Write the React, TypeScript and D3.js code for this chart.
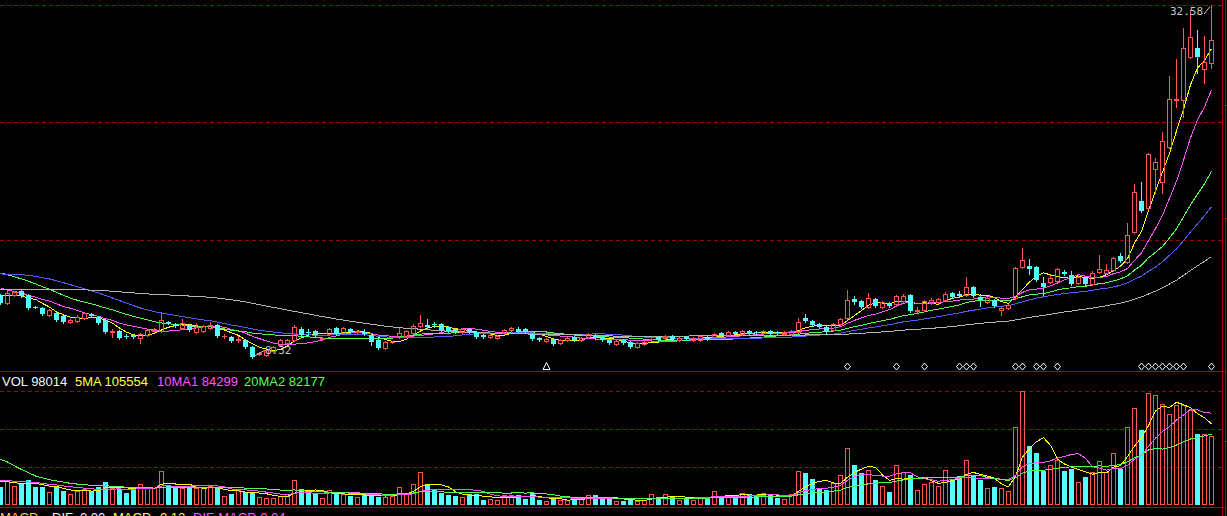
import React from "react";
import * as d3 from "d3";

// ---------- data ----------
const opens = [
  12.62, 12.07, 12.62, 12.90, 12.62, 11.80, 11.73, 11.25, 11.39, 11.18,
  10.77, 10.84, 11.04, 11.32, 11.11, 10.91, 10.08, 10.15, 9.83, 9.87,
  9.67, 9.87, 10.15, 10.15, 10.77, 10.63, 10.36, 10.56, 10.08, 10.15,
  10.36, 10.56, 9.79, 9.74, 9.53, 9.53, 9.05, 8.57, 8.50, 8.78,
  9.19, 9.33, 9.53, 10.29, 10.10, 10.15, 9.60, 9.94, 10.36, 10.01,
  10.29, 10.08, 10.08, 9.87, 9.53, 8.98, 9.38, 9.74, 9.81, 10.01,
  10.49, 10.56, 10.65, 10.63, 10.42, 10.29, 10.08, 10.29, 10.08, 9.87,
  9.74, 9.67, 10.01, 10.22, 10.29, 10.29, 9.94, 9.67, 9.46, 9.60,
  9.33, 9.53, 9.74, 9.53, 9.74, 9.87, 9.74, 9.53, 9.26, 9.53,
  9.40, 9.05, 9.26, 9.58, 9.74, 9.67, 9.81, 9.53, 9.74, 9.55,
  9.53, 9.69, 9.74, 10.01, 9.87, 10.08, 9.94, 10.15, 10.08, 10.01,
  10.15, 10.08, 9.94, 9.94, 10.08, 11.04, 10.84, 10.63, 10.42, 10.22,
  10.63, 11.04, 12.35, 12.21, 11.80, 12.35, 11.80, 12.07, 12.01, 12.21,
  12.62, 11.53, 11.59, 12.07, 12.14, 12.28, 12.76, 12.69, 12.62, 13.17,
  12.49, 12.14, 12.28, 11.59, 11.73, 12.42, 14.55, 14.62, 14.55, 13.45,
  13.52, 13.59, 14.20, 14.00, 13.45, 13.79, 13.38, 14.20, 14.14, 14.34,
  15.30, 14.89, 16.95, 19.08, 18.60, 21.28, 20.39, 22.79, 26.05, 26.02,
  28.97, 29.59, 28.15, 28.56,
];
const highs = [
  12.69, 12.90, 12.90, 12.97, 12.69, 11.87, 11.80, 11.66, 11.46, 11.25,
  10.97, 11.25, 11.46, 11.39, 11.18, 10.97, 10.29, 10.22, 9.94, 9.94,
  10.01, 10.29, 10.36, 11.39, 10.84, 10.70, 10.97, 10.63, 10.70, 10.56,
  10.77, 10.63, 9.94, 9.81, 9.81, 9.60, 9.12, 8.71, 8.91, 9.12,
  9.60, 9.60, 10.56, 10.42, 10.29, 10.22, 9.74, 10.36, 10.42, 10.42,
  10.36, 10.22, 10.29, 9.94, 9.60, 9.46, 9.46, 10.36, 10.22, 10.63,
  11.25, 10.97, 10.77, 10.70, 10.49, 10.36, 10.36, 10.36, 10.15, 9.94,
  9.94, 9.87, 10.29, 10.42, 10.42, 10.36, 10.01, 9.74, 9.67, 9.67,
  9.60, 9.74, 9.81, 9.74, 10.01, 9.94, 9.81, 9.60, 9.53, 9.60,
  9.46, 9.40, 9.46, 9.67, 9.81, 9.87, 9.87, 9.74, 9.81, 9.74,
  9.87, 9.81, 10.01, 10.08, 10.15, 10.15, 10.22, 10.22, 10.15, 10.22,
  10.22, 10.15, 10.15, 10.22, 11.04, 11.32, 10.91, 10.70, 10.49, 10.70,
  11.04, 12.97, 12.56, 12.28, 12.76, 12.42, 12.21, 12.14, 12.62, 12.69,
  12.69, 11.80, 12.28, 12.42, 12.42, 12.83, 12.83, 12.90, 13.86, 13.24,
  12.69, 12.49, 12.35, 11.80, 12.01, 14.55, 15.85, 15.10, 14.62, 13.86,
  14.00, 14.48, 14.34, 14.27, 14.00, 13.86, 14.27, 15.37, 14.76, 15.24,
  15.51, 17.57, 20.25, 20.39, 22.38, 22.04, 23.82, 27.67, 28.84, 30.97,
  32.20, 30.83, 30.42, 32.58,
];
const lows = [
  12.01, 12.01, 12.56, 12.49, 11.66, 11.73, 11.25, 11.18, 10.84, 10.70,
  10.70, 10.77, 10.97, 11.11, 10.63, 10.01, 9.74, 9.60, 9.67, 9.67,
  9.33, 9.81, 10.08, 10.08, 10.63, 10.42, 10.29, 10.15, 10.01, 10.08,
  10.29, 9.74, 9.67, 9.40, 9.40, 8.98, 8.32, 8.50, 8.43, 8.71,
  9.12, 9.26, 9.46, 9.81, 9.87, 9.81, 9.53, 9.87, 9.87, 9.94,
  10.01, 10.01, 9.87, 9.19, 8.91, 8.91, 9.33, 9.67, 9.74, 9.94,
  10.42, 10.36, 10.42, 10.15, 10.08, 10.01, 10.01, 10.01, 9.67, 9.67,
  9.67, 9.60, 9.94, 10.15, 10.01, 10.01, 9.53, 9.46, 9.40, 9.19,
  9.26, 9.46, 9.46, 9.46, 9.67, 9.60, 9.46, 9.26, 9.19, 9.26,
  8.98, 8.98, 9.19, 9.53, 9.46, 9.60, 9.53, 9.46, 9.53, 9.46,
  9.46, 9.53, 9.67, 9.74, 9.81, 9.87, 9.87, 9.87, 9.94, 9.94,
  9.87, 9.94, 9.87, 9.87, 10.01, 10.77, 10.49, 10.36, 10.01, 10.15,
  10.56, 10.97, 12.01, 11.73, 11.73, 11.80, 11.73, 11.80, 11.94, 12.14,
  11.46, 11.46, 11.53, 12.01, 12.07, 12.21, 12.42, 12.49, 12.56, 12.49,
  11.87, 12.07, 11.80, 11.25, 11.66, 12.35, 14.48, 14.07, 13.59, 12.62,
  13.45, 13.52, 14.00, 13.31, 13.38, 13.31, 13.31, 14.14, 14.07, 14.27,
  14.89, 14.82, 16.88, 18.33, 18.53, 19.63, 19.63, 22.72, 25.54, 24.85,
  28.90, 27.87, 27.19, 28.22,
];
const closes = [
  12.07, 12.76, 12.83, 12.56, 11.73, 11.78, 11.32, 11.59, 10.91, 10.77,
  10.91, 11.11, 11.39, 11.18, 10.70, 10.08, 10.15, 9.67, 9.79, 9.74,
  9.94, 10.22, 10.29, 10.91, 10.70, 10.49, 10.70, 10.22, 10.42, 10.49,
  10.56, 9.81, 9.83, 9.46, 9.60, 9.05, 8.40, 8.64, 8.85, 9.05,
  9.53, 9.53, 10.42, 9.87, 10.06, 9.87, 9.67, 10.29, 9.94, 10.36,
  10.08, 10.15, 9.94, 9.40, 8.98, 9.40, 9.42, 10.01, 10.15, 10.49,
  10.70, 10.42, 10.61, 10.22, 10.15, 10.10, 10.29, 10.08, 9.74, 9.74,
  9.87, 9.81, 10.22, 10.36, 10.08, 10.08, 9.60, 9.53, 9.60, 9.26,
  9.53, 9.67, 9.53, 9.67, 9.94, 9.67, 9.53, 9.33, 9.46, 9.33,
  9.05, 9.33, 9.40, 9.62, 9.53, 9.81, 9.60, 9.67, 9.60, 9.67,
  9.81, 9.65, 9.94, 9.81, 10.08, 9.94, 10.15, 9.94, 10.01, 10.15,
  9.94, 10.01, 10.08, 10.15, 10.77, 10.84, 10.56, 10.42, 10.08, 10.63,
  10.97, 12.28, 12.14, 11.80, 12.42, 11.87, 12.14, 11.87, 12.56, 12.56,
  11.53, 11.59, 12.21, 12.28, 12.35, 12.69, 12.49, 12.56, 13.17, 12.56,
  12.28, 12.42, 11.87, 11.73, 11.94, 14.48, 15.03, 14.41, 13.65, 13.17,
  13.79, 14.41, 14.07, 13.38, 13.86, 13.38, 14.14, 14.41, 14.34, 15.17,
  14.96, 16.75, 19.70, 18.39, 22.31, 21.76, 23.20, 26.09, 26.12, 29.59,
  30.35, 28.97, 28.63, 30.14,
];
const volumes = [
  26000, 35500, 27000, 29400, 35500, 26000, 26000, 18000, 27400, 19900,
  15600, 20300, 22700, 19900, 25100, 32700, 23700, 22300, 17500, 23100,
  29400, 23700, 23700, 48300, 28400, 25100, 23700, 23700, 23700, 23700,
  27000, 23700, 12800, 15600, 21300, 18900, 17500, 11800, 10400, 9500,
  12800, 15600, 35500, 22700, 17500, 15600, 10400, 21300, 15600, 15600,
  12800, 11800, 15200, 13200, 11800, 11800, 12800, 25100, 16600, 29800,
  46400, 28400, 21300, 17500, 14200, 12800, 10900, 15600, 15600, 7100,
  8500, 7100, 13800, 13800, 14200, 8500, 16600, 7100, 5300, 8100,
  7100, 7100, 9500, 8100, 13800, 14200, 8100, 9500, 5700, 5700,
  8100, 5700, 6700, 15600, 11400, 15600, 11400, 7100, 10400, 7100,
  11400, 9500, 19900, 12800, 12800, 12800, 16600, 15600, 12800, 16600,
  14200, 10400, 8100, 15600, 48300, 45400, 36900, 22300, 21300, 30800,
  42200, 80500, 56800, 45000, 49700, 35500, 27000, 18500, 56400, 46400,
  42600, 21300, 29400, 33100, 27000, 49700, 35500, 41200, 63900, 41200,
  35500, 23700, 25600, 23700, 19900, 110300, 161900, 83800, 73800, 48700,
  56400, 63900, 48300, 51100, 32700, 39800, 46400, 62500, 46400, 73400,
  51500, 110300, 137300, 106500, 158600, 156200, 143400, 129200, 142000, 142000,
  134900, 100800, 100400, 98014,
];
// closes / volumes before the first visible bar (only feed the moving averages)
const priorCloses = [
  11.5, 11.6, 11.4, 11.7, 11.8, 11.6, 11.5, 11.7, 11.9, 11.6, 11.5, 11.7, 11.6, 11.8,
  11.9, 12.0, 12.2, 11.9, 12.1, 12.3, 12.0, 11.9, 12.1, 12.1, 12.0, 12.0, 12.1, 12.0, 12.2, 12.4,
  13.0, 13.2, 13.1, 13.5, 13.8, 14.0, 14.3, 14.6, 14.8, 15.0,
  15.3, 15.6, 15.4, 15.0, 15.2, 15.5, 15.1, 14.9, 15.0, 14.7,
  14.2, 13.9, 13.5, 13.4, 13.0,
  12.9, 12.7, 12.8, 12.65,
];
const priorVolumes = [
  110000, 140000, 130000, 125000, 122400,
  80000, 70000, 60000, 55000, 50600,
  42000, 38000, 40000, 35000, 34500,
  36000, 33000, 37000, 33500,
];
const priceMAPeriods = [5, 10, 20, 30, 60];
const priceMAColors = ["#ffff00", "#ff55ff", "#55ff55", "#5a5aff", "#b4b4b4"];
const volMAPeriods = [5, 10, 20];
const volMAColors = ["#ffff00", "#ff55ff", "#55ff55"];
const diamondIdx = [121, 128, 132, 137, 138, 139, 145, 146, 148, 149, 151, 163, 164, 165, 166, 167, 168, 169, 173];
const triangleIdx = [78];
const volLegend = [
  { label: "VOL 98014", color: "#f4f4f4", x: 2 },
  { label: "5MA 105554", color: "#ffff55", x: 75 },
  { label: "10MA1 84299", color: "#ff55ff", x: 157 },
  { label: "20MA2 82177", color: "#55ff55", x: 244 },
];
const macdLegend = [
  { label: "MACD", color: "#ffd24a", x: 0 },
  { label: "DIF", color: "#f4f4f4", x: 52 },
  { label: "0.00", color: "#f4f4f4", x: 80 },
  { label: "MACD", color: "#ffff55", x: 113 },
  { label: "0.12", color: "#ffff55", x: 160 },
  { label: "DIF-MACD 0.04", color: "#ff55ff", x: 193 },
];

const RED = "#ff5454";
const CYAN = "#54fcfc";
const GRID = "#a80000";
const BORDER = "#b40000";

function movingAverage(values: number[], prior: number[], n: number): number[] {
  const all = [...prior, ...values];
  const off = prior.length;
  return values.map((_, i) => {
    const end = off + i;
    const start = Math.max(0, end - n + 1);
    return d3.mean(all.slice(start, end + 1)) as number;
  });
}

export default function App() {
  const W = 1227;
  const H = 516;
  const n = closes.length;
  const priceMax = d3.max(highs) as number;
  const priceMin = d3.min(lows) as number;
  const maxIdx = highs.indexOf(priceMax);
  const minIdx = lows.indexOf(priceMin);

  const x = d3.scaleLinear().domain([0, n - 1]).range([0, 7 * (n - 1)]);
  const y = d3.scaleLinear().domain([priceMin, priceMax]).range([357.7, 4.5]);
  const vy = d3.scaleLinear().domain([0, 162000]).range([505, 391]);

  const priceGrid = d3.range(4).map((k) => priceMin + (k * (priceMax - priceMin)) / 3).slice(1);
  const volGrid = [54000, 108000, 162000];

  const line = (yy: (v: number) => number) =>
    d3
      .line<number>()
      .x((_, i) => x(i) + 0.5)
      .y((v) => yy(v));

  const priceMAs = priceMAPeriods.map((p) => movingAverage(closes, priorCloses, p));
  const volMAs = volMAPeriods.map((p) => movingAverage(volumes, priorVolumes, p));

  const candles = closes.map((c, i) => {
    const o = opens[i];
    const cx = Math.round(x(i));
    const up = c >= o;
    const yTop = Math.round(y(Math.max(o, c)));
    const yBot = Math.round(y(Math.min(o, c)));
    const yH = Math.round(y(highs[i]));
    const yL = Math.round(y(lows[i]));
    if (up) {
      return (
        <g key={i} stroke={RED} fill="none">
          {yH < yTop && <line x1={cx + 0.5} x2={cx + 0.5} y1={yH} y2={yTop} />}
          {yL > yBot && <line x1={cx + 0.5} x2={cx + 0.5} y1={yBot + 1} y2={yL + 1} />}
          {yBot - yTop >= 1 ? (
            <rect x={cx - 1.5} y={yTop + 0.5} width={4} height={yBot - yTop} />
          ) : (
            <line x1={cx - 2} x2={cx + 3} y1={yTop + 0.5} y2={yTop + 0.5} />
          )}
        </g>
      );
    }
    return (
      <g key={i}>
        <line x1={cx + 0.5} x2={cx + 0.5} y1={yH} y2={yL + 1} stroke={CYAN} />
        <rect x={cx - 2} y={yTop} width={5} height={Math.max(1, yBot - yTop)} fill={CYAN} />
      </g>
    );
  });

  const volBars = volumes.map((v, i) => {
    const cx = Math.round(x(i));
    const up = closes[i] >= opens[i];
    const top = Math.round(vy(v));
    const base = Math.round(vy(0));
    if (up) {
      return (
        <rect key={i} x={cx - 1.5} y={top + 0.5} width={4} height={Math.max(0, base - top - 1)} fill="none" stroke={RED} />
      );
    }
    return <rect key={i} x={cx - 2} y={top} width={5} height={base - top} fill={CYAN} />;
  });

  const markerY = 366.5;
  const hx = Math.round(x(maxIdx));
  const hy = y(priceMax);
  const lx = Math.round(x(minIdx));
  const ly = y(priceMin);

  return (
    <svg
      width={W}
      height={H}
      viewBox={`0 0 ${W} ${H}`}
      style={{ position: "fixed", left: 0, top: 0, display: "block", background: "#000" }}
    >
      <rect x={0} y={0} width={W} height={H} fill="#000" />
      {/* grid */}
      <g stroke={GRID} strokeDasharray="4,3" shapeRendering="crispEdges">
        {priceGrid.map((p, k) => (
          <line key={"pg" + k} x1={0} x2={1222} y1={Math.round(y(p)) + 0.5} y2={Math.round(y(p)) + 0.5} />
        ))}
        {volGrid.map((v, k) => (
          <line key={"vg" + k} x1={0} x2={1222} y1={Math.round(vy(v)) + 0.5} y2={Math.round(vy(v)) + 0.5} />
        ))}
      </g>
      {/* frame */}
      <g stroke={BORDER} shapeRendering="crispEdges">
        <line x1={0} x2={1226} y1={371.5} y2={371.5} />
        <line x1={0} x2={1226} y1={507.5} y2={507.5} />
        <line x1={1222.5} x2={1222.5} y1={0} y2={H} />
        <line x1={1225.5} x2={1225.5} y1={0} y2={H} />
        {[105, 218, 441].map((t) => (
          <line key={t} x1={1225} x2={1227} y1={t + 0.5} y2={t + 0.5} />
        ))}
      </g>

      {/* price moving averages */}
      <g fill="none" strokeWidth={1} shapeRendering="crispEdges">
        {priceMAs.map((ma, k) => (
          <path key={k} d={line(y)(ma) || ""} stroke={priceMAColors[k]} />
        ))}
      </g>
      <g shapeRendering="crispEdges">{candles}</g>

      {/* high / low labels */}
      <g fill="#c8c8c8" fontFamily="'DejaVu Sans Mono', monospace" fontSize={11}>
        <text x={hx - 41} y={15}>{priceMax.toFixed(2)}</text>
        <text x={lx + 13} y={Math.round(ly) - 4}>{priceMin.toFixed(2)}</text>
      </g>
      <g stroke="#c8c8c8">
        <line x1={hx - 7} y1={14} x2={hx - 1} y2={hy + 2} />
        <line x1={lx + 3} y1={ly - 2} x2={lx + 12} y2={ly - 7} />
      </g>

      {/* signal markers */}
      <g fill="none" stroke="#ffffff" strokeWidth={1}>
        {diamondIdx.map((i) => {
          const cx = Math.round(x(i)) + 0.5;
          return (
            <path key={"d" + i} d={`M${cx},${markerY - 3.5} L${cx + 3},${markerY} L${cx},${markerY + 3.5} L${cx - 3},${markerY} Z`} />
          );
        })}
        {triangleIdx.map((i) => {
          const cx = Math.round(x(i)) + 0.5;
          return <path key={"t" + i} d={`M${cx},${markerY - 4} L${cx + 3.5},${markerY + 3} L${cx - 3.5},${markerY + 3} Z`} />;
        })}
      </g>

      {/* volume */}
      <g shapeRendering="crispEdges">{volBars}</g>
      <g fill="none" strokeWidth={1} shapeRendering="crispEdges">
        {volMAs.map((ma, k) => (
          <path key={k} d={line(vy)(ma) || ""} stroke={volMAColors[k]} />
        ))}
      </g>

      {/* legends */}
      <g fontFamily="'Liberation Sans', Arial, sans-serif" fontSize={13}>
        {volLegend.map((t) => (
          <text key={t.label} x={t.x} y={386} fill={t.color}>
            {t.label}
          </text>
        ))}
        {macdLegend.map((t, k) => (
          <text key={k} x={t.x} y={522} fill={t.color}>
            {t.label}
          </text>
        ))}
      </g>
    </svg>
  );
}
